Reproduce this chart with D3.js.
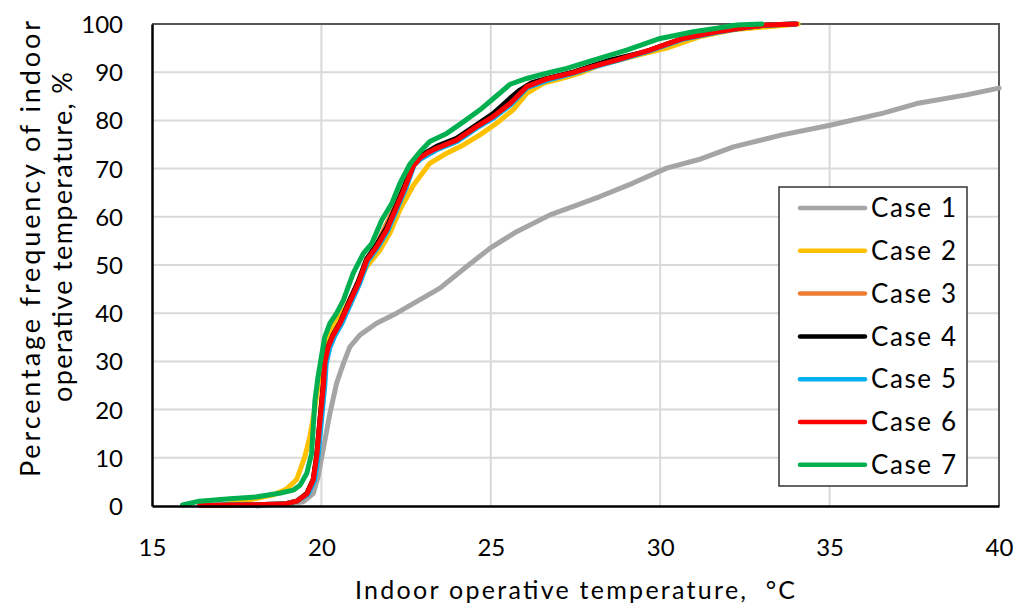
<!DOCTYPE html>
<html>
<head>
<meta charset="utf-8">
<script src="https://cdn.jsdelivr.net/npm/d3@7"></script>
<style>
  html, body { margin: 0; padding: 0; background: #fff; }
  svg { display: block; font-family: Lato, "Open Sans", sans-serif; }
  text { white-space: pre; }
</style>
</head>
<body>
<svg id="chart" width="1032" height="606"></svg>
<script>
// Cumulative frequency of indoor operative temperature, [°C, %] per case
const case1 = [[18.1,0],[18.6,0.3],[19.2,0.6],[19.47,0.9],[19.62,1.8],[19.76,2.6],[19.9,6],[20.06,12],[20.25,19.2],[20.45,25.5],[20.65,29.6],[20.84,33],[21.14,35.5],[21.63,37.9],[22.22,40],[22.81,42.4],[23.5,45.2],[24.29,49.7],[24.98,53.5],[25.76,56.9],[26.75,60.4],[27.5,62.3],[28.22,64.2],[29.2,67],[30.19,70.1],[31.2,72],[32.16,74.5],[33.6,77],[35.01,79],[36.58,81.5],[37.57,83.5],[39.04,85.3],[40,86.7]];
const case2 = [[17.1,0.2],[17.6,0.8],[18.1,1.6],[18.58,2.3],[18.97,3.5],[19.27,5.5],[19.51,10.2],[19.66,14.4],[19.8,20],[19.92,26],[20.05,31],[20.2,35],[20.4,37.9],[20.7,41],[21.0,45],[21.34,49.7],[21.73,53.1],[22.02,56.6],[22.32,61.5],[22.71,66.5],[23.2,71.1],[23.7,73.2],[24.19,74.9],[24.68,77],[25.17,79.4],[25.66,82.2],[26.06,85.6],[26.55,87.7],[27.24,89],[27.63,89.8],[28.22,91.5],[29.2,93.3],[30.19,95],[31.17,97.4],[32.16,98.8],[33.1,99.4],[34.07,100]];
const case3 = [[16.5,0.1],[17.5,0.2],[18.9,0.4],[19.27,1],[19.57,2.6],[19.76,5.6],[19.86,10.5],[19.96,18],[20.05,25.5],[20.1,29.8],[20.2,33.2],[20.35,35.6],[20.55,38],[20.84,42.6],[21.09,46.5],[21.34,51.2],[21.63,54.2],[21.9,58.2],[22.2,62.5],[22.45,66.5],[22.71,70.8],[22.91,72.4],[23.4,74.4],[23.99,76.1],[24.58,78.8],[25.07,81],[25.57,83.8],[26.06,87.2],[26.65,88.6],[27.43,89.9],[28.03,91.2],[28.71,92.5],[29.69,94.6],[30.68,97],[31.67,98.4],[32.65,99.4],[33.14,99.8],[34.0,100]];
const case4 = [[16.5,0.1],[17.5,0.2],[18.9,0.4],[19.27,1],[19.57,2.6],[19.76,5.5],[19.86,10.4],[19.96,18],[20.06,25.2],[20.1,29.7],[20.2,33.1],[20.35,35.6],[20.55,38],[20.84,42.8],[21.09,46.6],[21.34,51.3],[21.63,54.2],[21.93,57.8],[22.22,62.5],[22.47,66.6],[22.71,71],[22.91,72.6],[23.4,74.6],[23.99,76.3],[24.58,79.1],[25.07,81.4],[25.57,84.6],[25.86,86.3],[26.2,87.8],[26.65,88.7],[27.43,90],[28.03,91.4],[28.52,92.5],[29.6,94.3],[30.83,97.4],[31.67,98.5],[32.65,99.4],[33.14,99.8],[34.0,100]];
const case5 = [[16.5,0.1],[17.5,0.2],[18.9,0.4],[19.27,1],[19.6,2.4],[19.8,5.3],[19.9,10.1],[20.0,17.6],[20.1,25],[20.14,29.4],[20.25,32.9],[20.4,35.4],[20.6,37.8],[20.88,42.2],[21.12,46],[21.37,50.8],[21.66,53.6],[21.96,57.1],[22.25,61.9],[22.5,66],[22.74,70.8],[22.94,72],[23.43,74],[24.02,75.7],[24.6,78.5],[25.1,80.6],[25.6,83.3],[26.08,86.8],[26.67,88.3],[27.45,89.8],[28.05,91.1],[28.73,92.4],[29.7,94.5],[30.7,96.9],[31.68,98.3],[32.66,99.4],[33.15,99.8],[34.02,100]];
const case6 = [[16.4,0.1],[17.5,0.2],[18.9,0.4],[19.27,1],[19.57,2.5],[19.76,5.4],[19.86,10.2],[19.96,17.8],[20.06,25],[20.1,29.6],[20.2,33],[20.35,35.5],[20.55,37.9],[20.84,42.4],[21.09,46.2],[21.34,51],[21.63,53.8],[21.93,57.3],[22.22,62.1],[22.47,66.2],[22.71,70.5],[22.91,72.2],[23.11,73.2],[23.4,74.2],[23.99,75.9],[24.58,78.7],[25.07,80.8],[25.57,83.5],[26.06,87],[26.65,88.6],[27.43,89.9],[28.03,91.2],[28.71,92.5],[29.69,94.6],[30.68,97],[31.67,98.4],[32.65,99.4],[33.14,99.8],[34.02,100]];
const case7 = [[15.9,0.2],[16.4,1.0],[17.3,1.5],[18.1,1.9],[18.8,2.7],[19.17,3.3],[19.37,4.3],[19.57,6.8],[19.71,10.9],[19.76,16.5],[19.81,22],[19.9,26.8],[20.0,31],[20.1,35.1],[20.25,37.9],[20.45,40],[20.65,42.7],[20.94,48.3],[21.24,52.4],[21.49,54.5],[21.78,59.3],[22.08,62.8],[22.32,67],[22.62,71],[22.91,73.5],[23.2,75.6],[23.7,77.3],[24.19,79.7],[24.68,82.2],[25.07,84.5],[25.57,87.5],[26.06,88.7],[26.65,89.8],[27.24,90.8],[28.03,92.5],[29.01,94.6],[30.0,97],[30.98,98.4],[31.67,99.1],[32.26,99.8],[33.0,100]];

const caseNames = ["Case 1","Case 2","Case 3","Case 4","Case 5","Case 6","Case 7"];
const caseColors = ["#a5a5a5","#ffc000","#ed7d31","#000000","#00b0f0","#ff0000","#00b050"];
const caseData = [case1, case2, case3, case4, case5, case6, case7];

const xTicks = [15, 20, 25, 30, 35, 40];
const yTicks = [0, 10, 20, 30, 40, 50, 60, 70, 80, 90, 100];

const xTitle = "Indoor operative temperature,  °C";
const yTitleLines = ["Percentage frequency of indoor", "operative temperature, %"];

const svg = d3.select("#chart");
const plot = { left: 152, right: 999, top: 24, bottom: 506 };

const x = d3.scaleLinear().domain([15, 40]).range([plot.left, plot.right]);
const y = d3.scaleLinear().domain([0, 100]).range([plot.bottom, plot.top]);

svg.append("rect").attr("width", 1032).attr("height", 606).attr("fill", "#fff");

// grid lines
const grid = svg.append("g").attr("stroke", "#d9d9d9").attr("stroke-width", 2);
grid.selectAll("line.v").data(xTicks.slice(1, -1)).join("line")
  .attr("x1", d => x(d)).attr("x2", d => x(d))
  .attr("y1", plot.top).attr("y2", plot.bottom);
grid.selectAll("line.h").data(yTicks.slice(1, -1)).join("line")
  .attr("x1", plot.left).attr("x2", plot.right)
  .attr("y1", d => y(d)).attr("y2", d => y(d));

// plot frame: top and right edges
svg.append("path")
  .attr("d", `M${plot.left},${plot.top}H${plot.right}V${plot.bottom}`)
  .attr("fill", "none").attr("stroke", "#595959").attr("stroke-width", 2);

// series
const line = d3.line().x(d => x(d[0])).y(d => y(d[1]));
svg.append("g").selectAll("path").data(caseData).join("path")
  .attr("d", line)
  .attr("fill", "none")
  .attr("stroke", (d, i) => caseColors[i])
  .attr("stroke-width", 5)
  .attr("stroke-linejoin", "round")
  .attr("stroke-linecap", "round");

// axes
const xAxis = svg.append("g").attr("transform", `translate(0,${plot.bottom})`)
  .call(d3.axisBottom(x).tickValues(xTicks).tickSize(0).tickPadding(42));
const yAxis = svg.append("g").attr("transform", `translate(${plot.left},0)`)
  .call(d3.axisLeft(y).tickValues(yTicks).tickSize(0).tickPadding(29));
[xAxis, yAxis].forEach(a => {
  a.select(".domain").attr("stroke", "#000").attr("stroke-width", 2.5);
  a.selectAll("text").attr("font-family", "Lato, sans-serif").attr("font-size", 24).attr("fill", "#000");
});
yAxis.selectAll("text").attr("dy", "0.35em");
xAxis.selectAll("text").attr("dy", "0.35em");

// axis titles
svg.append("text")
  .attr("x", 575).attr("y", 599)
  .attr("text-anchor", "middle")
  .attr("font-size", 25)
  .attr("textLength", 440).attr("lengthAdjust", "spacing")
  .text(xTitle);

const yTitleSpan = [456, 330];
const yTitleCenter = [249, 237];
yTitleLines.forEach((t, i) => {
  svg.append("text")
    .attr("transform", `translate(${40 + i * 32},${yTitleCenter[i]}) rotate(-90)`)
    .attr("text-anchor", "middle")
    .attr("font-size", 27)
    .attr("textLength", yTitleSpan[i]).attr("lengthAdjust", "spacing")
    .text(t);
});

// legend
const legend = svg.append("g");
legend.append("rect")
  .attr("x", 779).attr("y", 187).attr("width", 188).attr("height", 299)
  .attr("fill", "#fff").attr("stroke", "#333").attr("stroke-width", 1.5);
const item = legend.selectAll("g.item").data(caseNames).join("g")
  .attr("transform", (d, i) => `translate(0,${208 + i * 42.8})`);
item.append("line")
  .attr("x1", 800).attr("x2", 865)
  .attr("stroke", (d, i) => caseColors[i])
  .attr("stroke-width", 4.5).attr("stroke-linecap", "round");
item.append("text")
  .attr("x", 871).attr("dy", "0.35em")
  .attr("font-size", 26)
  .attr("textLength", 85).attr("lengthAdjust", "spacing")
  .text(d => d);
</script>
</body>
</html>
